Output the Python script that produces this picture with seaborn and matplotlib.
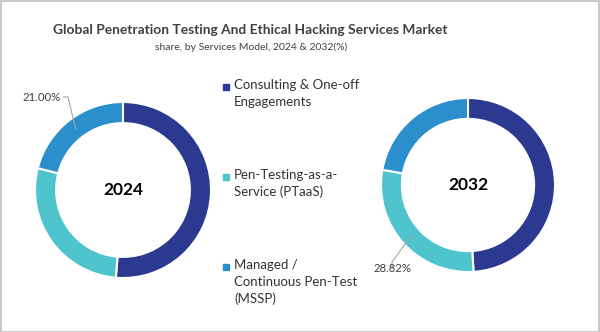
import matplotlib
matplotlib.use("Agg")
import matplotlib.pyplot as plt
from matplotlib.lines import Line2D
from matplotlib.patches import Rectangle
import numpy as np
import seaborn as sns

# ---- data -------------------------------------------------------------
segments = ["Consulting & One-off\nEngagements",
            "Pen-Testing-as-a-\nService (PTaaS)",
            "Managed /\nContinuous Pen-Test\n(MSSP)"]
years = ["2024", "2032"]
share_2024 = [51.3, 27.7, 21.0]
share_2032 = [48.98, 28.82, 22.20]
# which segment gets a value label in each donut
labelled_2024 = 2
labelled_2032 = 1

colors = ["#2B3990", "#4EC4CF", "#2A8FCC"]

sns.set_theme(style="white")
FONT = ["Lato", "DejaVu Sans"]
plt.rcParams["font.family"] = FONT

W, H = 600, 332
fig = plt.figure(figsize=(W / 100, H / 100), dpi=100)
fig.patch.set_facecolor("white")
fig.add_artist(Rectangle((0.5 / W, 0.5 / H), 1 - 1.5 / W, 1 - 1.5 / H,
                         transform=fig.transFigure, fill=False,
                         edgecolor="#BFBFBF", linewidth=1.2))

fig.text(250 / W, 1 - 30 / H,
         "Global Penetration Testing And Ethical Hacking Services Market",
         ha="center", va="center", fontsize=9.9, fontweight="bold",
         color="#404040")
fig.text(251 / W, 1 - 47 / H, "share, by Services Model, 2024 & 2032(%)",
         ha="center", va="center", fontsize=7.5, color="#404040")


def donut(cx, cy, r, values, year, lab_idx, lab_xy, lab_ha, corner):
    ax = fig.add_axes([(cx - r) / W, (H - cy - r) / H, 2 * r / W, 2 * r / H])
    wedges, _ = ax.pie(values, colors=colors, startangle=90, counterclock=False,
                       radius=1.0,
                       wedgeprops=dict(width=0.24, edgecolor="white", linewidth=1.5))
    ax.set_xlim(-1, 1)
    ax.set_ylim(-1, 1)
    ax.axis("off")
    ax.text(0, 0, year, ha="center", va="center", fontsize=12.5,
            fontweight="bold", color="black")
    w = wedges[lab_idx]
    mid = np.deg2rad((w.theta1 + w.theta2) / 2)
    rm = 1.0 - 0.24 / 2
    ax_pt = (rm * np.cos(mid), rm * np.sin(mid))
    # leader: label -> corner -> middle of ring segment
    to_fig = lambda p: (p[0] / W, 1 - p[1] / H)
    anchor_fig = fig.transFigure.inverted().transform(ax.transData.transform(ax_pt))
    cfig = to_fig(corner)
    start = to_fig(lab_xy)
    fig.add_artist(Line2D([start[0] + (2 / W if lab_ha == "right" else 0), cfig[0], anchor_fig[0]],
                          [start[1], cfig[1], anchor_fig[1]],
                          transform=fig.transFigure, color="#A6A6A6", linewidth=0.8))
    fig.text(*start, f"{values[lab_idx]:.2f}%", ha=lab_ha, va="center",
             fontsize=8.2, color="#404040")
    return wedges


donut(123, 190, 88, share_2024, years[0], labelled_2024,
      (61, 97), "right", (68, 97))
donut(468, 185, 87, share_2032, years[1], labelled_2032,
      (392, 268), "center", (392, 262))

# legend: colour square beside the first line of each label
legend_y = [87, 177, 267]
for lab, col, y in zip(segments, colors, legend_y):
    fig.add_artist(Line2D([226 / W], [1 - y / H], marker="s", markersize=5,
                          color=col, linestyle="none", transform=fig.transFigure))
    fig.text(234 / W, 1 - (y - 8) / H, lab, ha="left", va="top", fontsize=9.5,
             color="#333333", linespacing=1.45)

fig.savefig("out.png", dpi=100, facecolor="white")
